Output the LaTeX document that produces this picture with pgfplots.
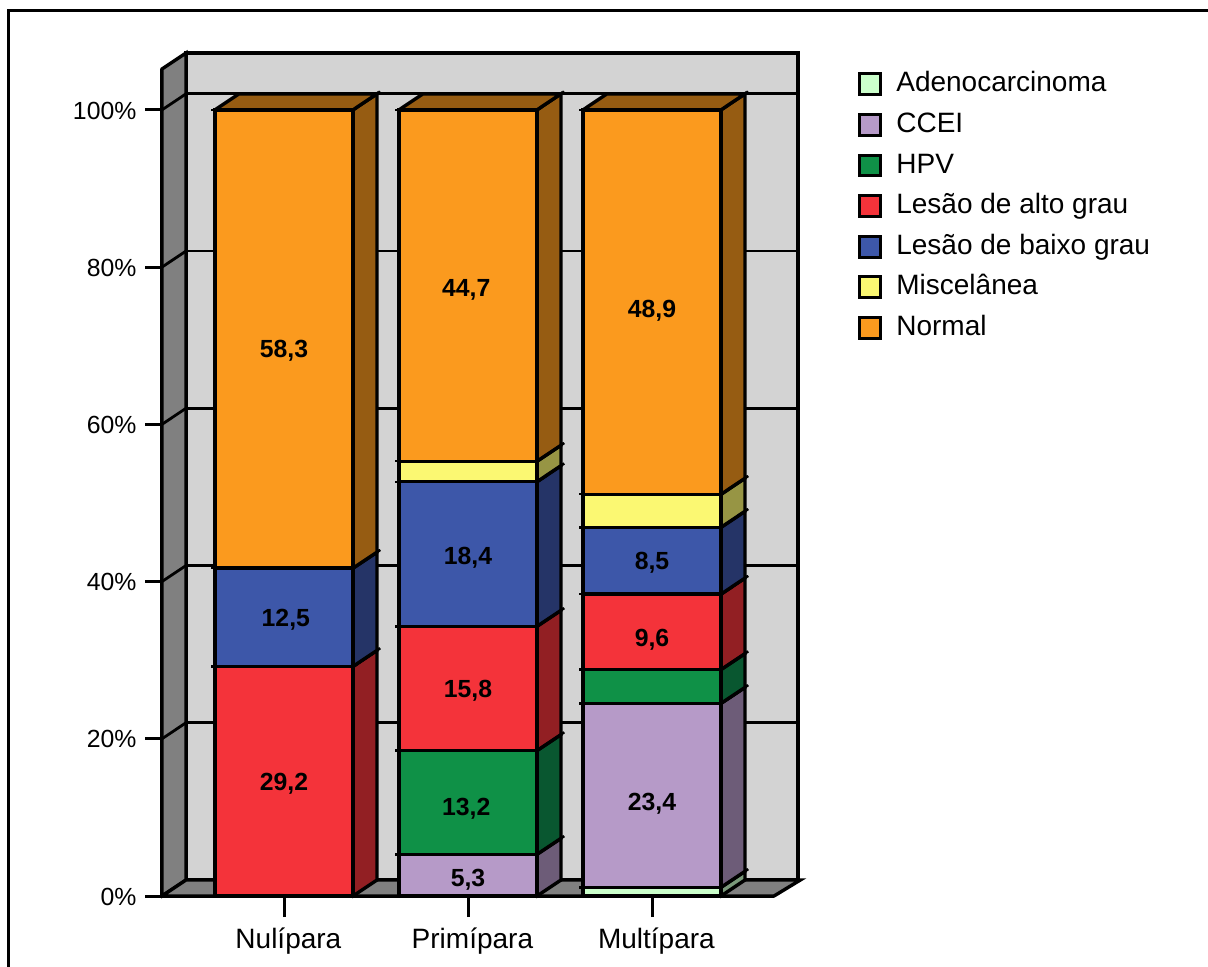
\documentclass[border=0pt]{standalone}
\usepackage{fontspec}
\setmainfont{Liberation Sans}
\usepackage{pgfplots}
\pgfplotsset{compat=1.18}

\definecolor{wall}{HTML}{D3D3D3}
\definecolor{shade}{HTML}{808080}
\definecolor{cAde}{HTML}{CBFFCB}  \definecolor{sAde}{HTML}{7A997A}
\definecolor{cCce}{HTML}{B69AC8}  \definecolor{sCce}{HTML}{6D5C78}
\definecolor{cHpv}{HTML}{0F9147}  \definecolor{sHpv}{HTML}{095730}
\definecolor{cAlt}{HTML}{F4333A}  \definecolor{sAlt}{HTML}{921F23}
\definecolor{cBai}{HTML}{3D57A9}  \definecolor{sBai}{HTML}{253467}
\definecolor{cMis}{HTML}{FBF872}  \definecolor{sMis}{HTML}{979544}
\definecolor{cNor}{HTML}{FB9A1E}  \definecolor{sNor}{HTML}{965C12}

% depth of the oblique projection, in axis units
\newcommand{\dx}{0.1304}
\newcommand{\dy}{2.04}

% one stacked segment: left, right, bottom, top, front colour, side colour
\newcommand{\seg}[6]{%
  \addplot[face,fill=#6] coordinates {(#2,#3) ({#2+\dx},{#3+\dy}) ({#2+\dx},{#4+\dy}) (#2,#4) (#2,#3)};
  \addplot[face,fill=#5] coordinates {(#1,#3) (#2,#3) (#2,#4) (#1,#4) (#1,#3)};
}
% small notches where a segment boundary leaves the column
\newcommand{\notch}[3]{%
  \addplot[face,line cap=butt,line width=1.2pt] coordinates {({#1-0.02},#3) (#1,#3)};
  \addplot[face,line cap=butt,line width=1.2pt] coordinates {(#2,#3) ({#2+\dx+0.018},{#3+\dy+0.28})};
}
% top face of a column
\newcommand{\topface}[3]{%
  \addplot[face,fill=sNor] coordinates {(#1,#3) ({#1+\dx},{#3+\dy}) ({#2+\dx},{#3+\dy}) (#2,#3) (#1,#3)};
}

\begin{document}
\begin{tikzpicture}
\path[use as bounding box] (0pt,0pt) rectangle (604pt,483pt);
\draw[line width=1.5pt,line join=miter] (4pt,-5pt) -- (4pt,477.5pt) -- (610pt,477.5pt);
\begin{axis}[
  at={(81pt,35pt)}, anchor=south west,
  scale only axis, width=306pt, height=413.5pt,
  clip=false,
  xmin=-0.66304, xmax=2.66304, ymin=0, ymax=105.2,
  axis lines*=left, axis line style={-,line width=1.6pt,black},
  tick align=outside,
  xtick={0,1,2}, xticklabels={Nulípara,Primípara,Multípara},
  ytick={0,20,40,60,80,100}, yticklabels={0\%,20\%,40\%,60\%,80\%,100\%},
  x tick style={line width=1.5pt,black,/pgfplots/major tick length=10.5pt},
  y tick style={line width=1.5pt,black,/pgfplots/major tick length=8.5pt},
  yticklabel style={font=\fontsize{12.4pt}{14pt}\selectfont,xshift=-5pt,yshift=-0.3pt},
  xticklabel style={font=\fontsize{14pt}{16pt}\selectfont,xshift=2.2pt,yshift=-8pt},
  face/.style={forget plot,draw=black,line width=1.7pt,line cap=rect,line join=miter,mark=none},
  legend image code/.code={\draw[#1] (0pt,-4.45pt) rectangle (10.6pt,5.95pt);},
  legend style={at={(1.1375,0.9958)},anchor=north west,draw=none,fill=none,
    font=\fontsize{14pt}{16pt}\selectfont,
    row sep=7.6pt,inner sep=0pt,outer sep=0pt,
    nodes={text height=9pt,text depth=3pt,inner sep=0pt,inner xsep=7pt}},
  legend cell align=left,
]
% walls and floor
\addplot[face,fill=wall] coordinates {(-0.5326,2.04) (2.7935,2.04) (2.7935,107.24) (-0.5326,107.24) (-0.5326,2.04)};
\addplot[face,fill=shade] coordinates {(-0.66304,0) (-0.5326,2.04) (-0.5326,107.24) (-0.66304,105.2) (-0.66304,0)};
\addplot[face,fill=shade] coordinates {(-0.66304,0) (-0.5326,2.04) (2.8065,2.04) (2.66304,0) (-0.66304,0)};
% gridlines on the back wall and their continuation across the left wall
\pgfplotsinvokeforeach{20,40,60,80,100}{
  \addplot[face,line width=1.4pt] coordinates {(-0.5326,{#1+2.04}) (2.7935,{#1+2.04})};
  \addplot[face,line width=1.4pt] coordinates {(-0.66304,#1) (-0.5326,{#1+2.04})};
}
% Nulípara
\seg{-0.375}{0.375}{0}{29.2}{cAlt}{sAlt}
\seg{-0.375}{0.375}{29.2}{41.7}{cBai}{sBai}
\seg{-0.375}{0.375}{41.7}{100}{cNor}{sNor}
\topface{-0.375}{0.375}{100}
\notch{-0.375}{0.375}{29.2}
\notch{-0.375}{0.375}{41.7}
\notch{-0.375}{0.375}{100}
% Primípara
\seg{0.625}{1.375}{0}{5.3}{cCce}{sCce}
\seg{0.625}{1.375}{5.3}{18.5}{cHpv}{sHpv}
\seg{0.625}{1.375}{18.5}{34.3}{cAlt}{sAlt}
\seg{0.625}{1.375}{34.3}{52.7}{cBai}{sBai}
\seg{0.625}{1.375}{52.7}{55.3}{cMis}{sMis}
\seg{0.625}{1.375}{55.3}{100}{cNor}{sNor}
\topface{0.625}{1.375}{100}
\notch{0.625}{1.375}{5.3}
\notch{0.625}{1.375}{18.5}
\notch{0.625}{1.375}{34.3}
\notch{0.625}{1.375}{52.7}
\notch{0.625}{1.375}{55.3}
\notch{0.625}{1.375}{100}
% Multípara
\seg{1.625}{2.375}{0}{1.1}{cAde}{sAde}
\seg{1.625}{2.375}{1.1}{24.5}{cCce}{sCce}
\seg{1.625}{2.375}{24.5}{28.8}{cHpv}{sHpv}
\seg{1.625}{2.375}{28.8}{38.4}{cAlt}{sAlt}
\seg{1.625}{2.375}{38.4}{46.9}{cBai}{sBai}
\seg{1.625}{2.375}{46.9}{51.1}{cMis}{sMis}
\seg{1.625}{2.375}{51.1}{100}{cNor}{sNor}
\topface{1.625}{2.375}{100}
\notch{1.625}{2.375}{1.1}
\notch{1.625}{2.375}{24.5}
\notch{1.625}{2.375}{28.8}
\notch{1.625}{2.375}{38.4}
\notch{1.625}{2.375}{46.9}
\notch{1.625}{2.375}{51.1}
\notch{1.625}{2.375}{100}
% value labels
\addplot[forget plot,only marks,mark=none,point meta=explicit symbolic,
  nodes near coords,
  nodes near coords style={anchor=center,inner sep=0pt,text=black,yshift=-1pt,
    font=\fontsize{12.4pt}{14pt}\selectfont\bfseries}]
  table[meta=label] {
x      y      label
0.000  69.60  58,3
0.010  35.40  12,5
0.000  14.50  29,2
0.990  77.35  44,7
1.000  43.25  18,4
1.000  26.30  15,8
0.990  11.30  13,2
1.000  2.30   5,3
2.000  74.70  48,9
2.000  42.60  8,5
2.000  32.80  9,6
2.000  12.00  23,4
};
% legend
\addlegendimage{draw=black,line width=1.5pt,fill=cAde}\addlegendentry{Adenocarcinoma}
\addlegendimage{draw=black,line width=1.5pt,fill=cCce}\addlegendentry{CCEI}
\addlegendimage{draw=black,line width=1.5pt,fill=cHpv}\addlegendentry{HPV}
\addlegendimage{draw=black,line width=1.5pt,fill=cAlt}\addlegendentry{Lesão de alto grau}
\addlegendimage{draw=black,line width=1.5pt,fill=cBai}\addlegendentry{Lesão de baixo grau}
\addlegendimage{draw=black,line width=1.5pt,fill=cMis}\addlegendentry{Miscelânea}
\addlegendimage{draw=black,line width=1.5pt,fill=cNor}\addlegendentry{Normal}
\end{axis}
\end{tikzpicture}
\end{document}
